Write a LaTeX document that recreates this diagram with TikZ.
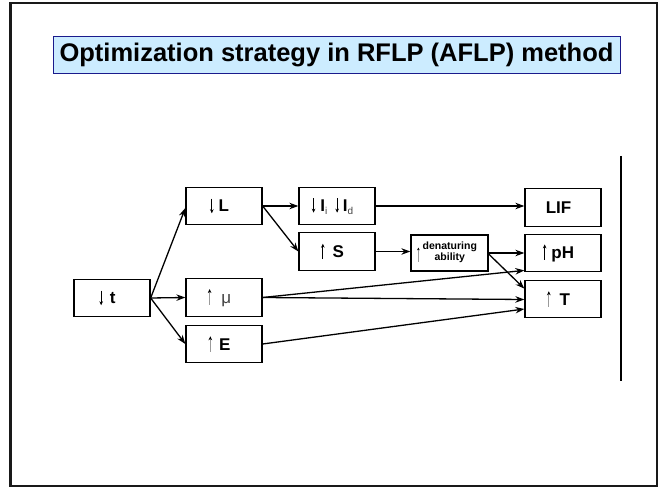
\documentclass[tikz,border=0pt]{standalone}
\usepackage{fontspec}
\setmainfont{Liberation Sans}
\usetikzlibrary{arrows.meta,calc}

\definecolor{titlefill}{HTML}{CCECFF}
\definecolor{titleline}{HTML}{1A1A8C}
\definecolor{shaft}{HTML}{9A9A9A}

% small vertical arrows used inside the labels
\newcommand{\dnarr}{\tikz[baseline=0pt]{\draw[line width=0.75pt,-{Stealth[length=4pt,width=3.6pt]}] (0pt,13pt)--(0pt,-1.5pt);}}
\newcommand{\uparr}[1][black]{\tikz[baseline=0pt]{\draw[#1,line width=0.75pt,-{Stealth[length=4pt,width=3.6pt,color=black]}] (0pt,-1.5pt)--(0pt,14pt);}}
\newcommand{\smallup}{\tikz[baseline=0pt]{\draw[shaft,line width=0.6pt,-{Stealth[length=2.6pt,width=2.6pt,color=black]}] (0pt,-6pt)--(0pt,8pt);}}
\newcommand{\sub}[1]{{\mdseries\fontsize{10}{10}\selectfont\color{darkgray}\raisebox{-3pt}{#1}}}
\newcommand{\lbl}[1]{#1\kern9pt}

\tikzset{
  box/.style={draw, line width=1.3pt, minimum width=76pt, minimum height=37.5pt,
    inner sep=0pt, font=\bfseries\fontsize{17}{18}\selectfont},
  smallbox/.style={draw, line width=1.3pt, minimum width=77pt, minimum height=36pt,
    inner sep=0pt, font=\bfseries\fontsize{10.5}{11}\selectfont, align=center},
  link/.style={line width=1.3pt, -{Stealth[length=9pt,width=6.5pt]}},
}

\begin{document}
\begin{tikzpicture}[x=1pt,y=1pt]
  \useasboundingbox (0,0) rectangle (665,488);
  % outer frame
  \draw[line width=2.6pt, black!90] (10.5,2) rectangle (657,485);

  % title banner
  \node[draw=titleline, fill=titlefill, line width=1pt, minimum width=567pt,
        minimum height=36.5pt, inner sep=0pt,
        font=\bfseries\fontsize{25.5}{26}\selectfont] (title) at (336.5,433.2)
        {Optimization strategy in RFLP (AFLP) method};

  % right-hand rule
  \draw[line width=2pt] (621,332) -- (621,107);

  % boxes
  \node[box] (t)   at (112,190)   {\lbl{\dnarr\hspace{7pt}t}};
  \node[box] (L)   at (224,282)   {\lbl{\dnarr\hspace{5pt}L}};
  \node[box] (mu)  at (224,190.5) {\lbl{\uparr[shaft]\hspace{10pt}{\mdseries\color{darkgray}μ}}};
  \node[box] (E)   at (224,144)   {\lbl{\uparr[shaft]\hspace{7pt}E}};
  \node[box] (I)   at (337,282)
        {\lbl{\dnarr\hspace{5pt}I\sub{i}\hspace{8pt}\dnarr\hspace{4pt}I\sub{d}}};
  \node[box] (S)   at (337,236.5) {\lbl{\uparr\hspace{8pt}S}};
  \node[smallbox] (den) at (449.5,235)
        {\smallup\hspace{3pt}\begin{tabular}{@{}c@{}}denaturing\\ability\end{tabular}\kern5pt};
  \node[box] (LIF) at (563,280.5) {\lbl{LIF}};
  \node[box] (pH)  at (563,235)   {\lbl{\uparr\hspace{5pt}pH}};
  \node[box] (T)   at (563,189)   {\lbl{\uparr[shaft]\hspace{9pt}T}};

  % connectors
  \draw[link] (t.east) -- ($(L.west)+(0,-2)$);
  \draw[link] (t.east) -- (mu.west);
  \draw[link] (t.east) -- (E.west);
  \draw[link] (L.east) -- (I.west);
  \draw[link] (L.east) -- (S.west);
  \draw[link] (I.east) -- ($(LIF.west)+(0,1.5)$);
  \draw[link] (S.east) -- ($(den.west)+(0,1.5)$);
  \draw[link] (den.east) -- (pH.west);
  \draw[link] ($(den.east)+(0,-1)$) -- ($(T.north west)+(0,-9)$);
  \draw[link] (mu.east) -- ($(pH.south west)+(0,2)$);
  \draw[link] (mu.east) -- ($(T.west)+(0,-0.5)$);
  \draw[link] (E.east) -- ($(T.west)+(0,-10)$);
\end{tikzpicture}
\end{document}
